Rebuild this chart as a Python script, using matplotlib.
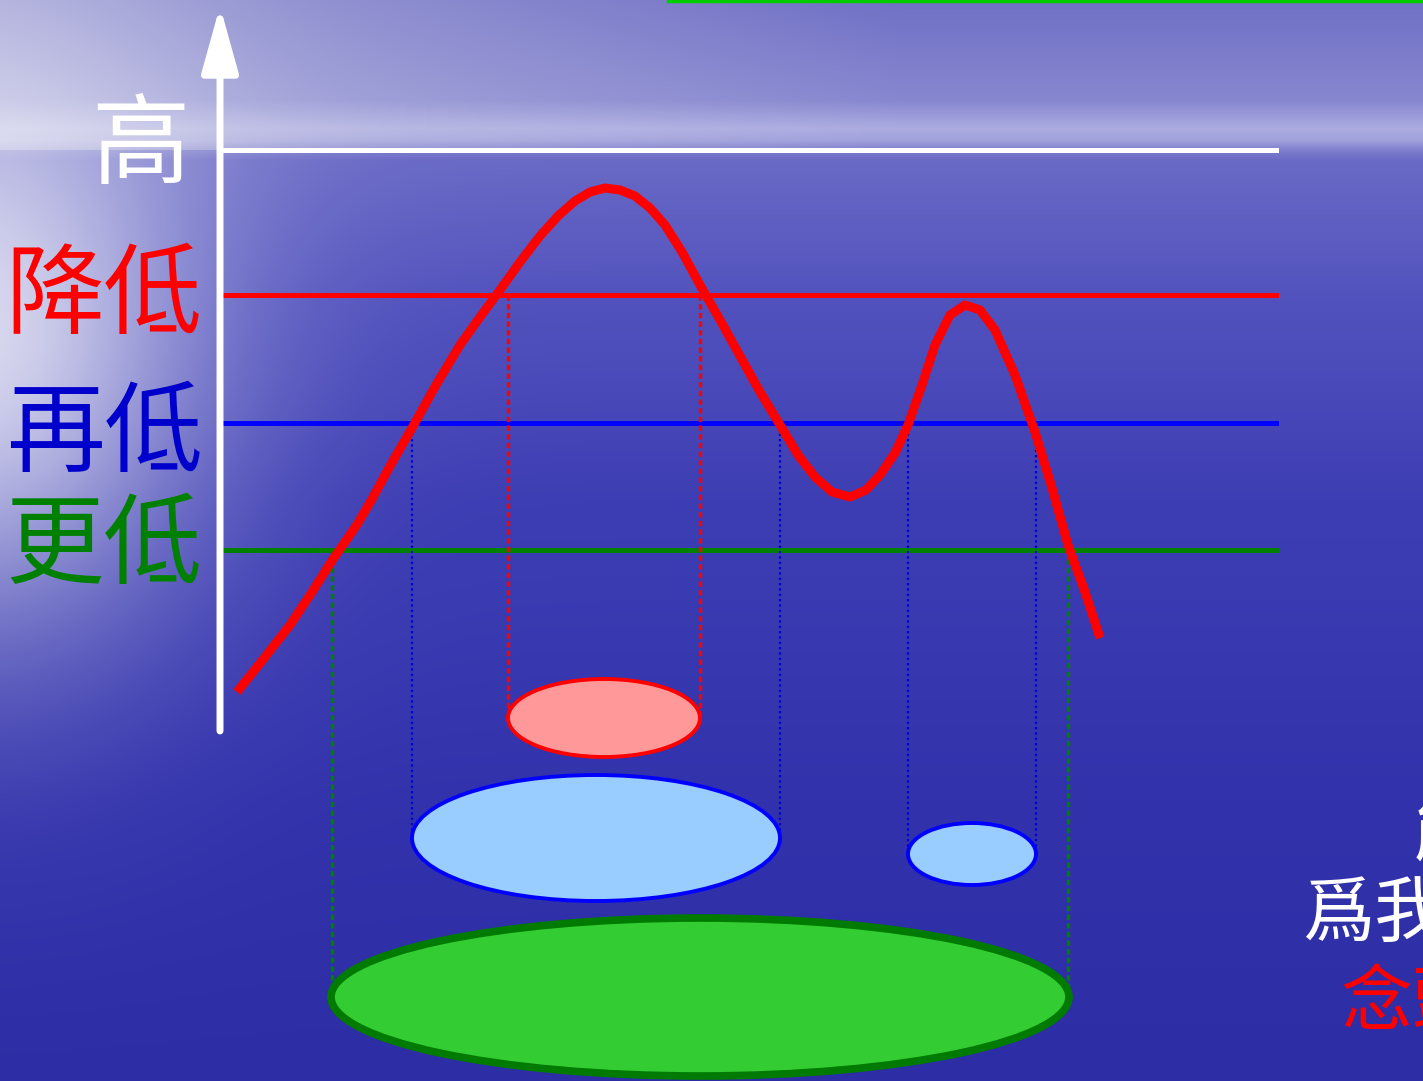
import numpy as np
import matplotlib
matplotlib.use('Agg')
import matplotlib.pyplot as plt
from matplotlib.patches import Ellipse

plt.rcParams['font.family'] = ['Noto Sans CJK TC', 'DejaVu Sans']

W, H = 1423, 1081

# 曲線 (像素座標)
curve_x = [237, 265, 290, 312, 333, 345, 358, 372, 390, 412, 436, 460, 480, 500, 520, 540, 558, 575, 590,
           605, 620, 635, 650, 665, 682, 700, 720, 740, 760, 780, 798, 815, 832, 850, 866, 880, 895,
           908, 922, 935, 950, 965, 980, 995, 1015, 1035, 1052, 1068, 1085, 1100]
curve_y = [692, 657, 625, 592, 559, 542, 523, 499, 466, 428, 385, 345, 317, 290, 262, 236, 216, 201, 192,
           188, 190, 196, 208, 225, 252, 285, 320, 356, 392, 425, 455, 477, 492, 497, 490, 475, 453,
           425, 385, 345, 315, 305, 310, 330, 375, 432, 488, 545, 592, 638]

# 門檻
levels = [150, 295, 423, 550]
level_colors = ['white', '#ff0000', '#0000ff', '#008000']
labels = ['高', '降低', '再低', '更低']
label_colors = ['white', '#ff0000', '#0000cc', '#008000']
label_y = [148, 298, 436, 548]

# 虛線 (x, y_top, y_bottom, color)
drops_x = [508, 700, 412, 780, 908, 1036, 332, 1068]
drops_top = [295, 295, 423, 423, 423, 423, 550, 550]
drops_bot = [718, 718, 838, 838, 854, 854, 997, 997]
drops_col = ['#ff0000', '#ff0000', '#0000cc', '#0000cc', '#0000cc', '#0000cc', '#008000', '#008000']

# 橢圓 (cx, cy, w, h, face, edge, lw)
ell_cx = [604, 596, 972, 700]
ell_cy = [718, 838, 854, 997]
ell_w = [192, 368, 128, 738]
ell_h = [78, 126, 62, 158]
ell_face = ['#ff9999', '#99ccff', '#99ccff', '#33cc33']
ell_edge = ['#ff0000', '#0000ff', '#0000ff', '#007a00']
ell_lw = [2.8, 2.8, 2.8, 5.5]

fig = plt.figure(figsize=(W / 100, H / 100), dpi=100)
ax = fig.add_axes([0, 0, 1, 1])
ax.set_xlim(0, W)
ax.set_ylim(H, 0)
ax.axis('off')

# 背景
yy, xx = np.mgrid[0:H, 0:W]
ys = [0, 100, 128, 140, 150, 160, 300, 500, 800, 1081]
rs = [112, 135, 172, 160, 125, 105, 82, 62, 50, 45]
bs = [198, 208, 226, 220, 205, 198, 190, 180, 172, 165]
r = np.interp(yy, ys, rs).astype(float)
b = np.interp(yy, ys, bs).astype(float)
top = (yy < 150) * np.clip(1 - xx / 900.0, 0, 1) * 0.45
r = r + (220 - r) * top
b = b + (235 - b) * top
glow = np.exp(-(((xx + 30) / 230.0) ** 2 + ((yy - 330) / 300.0) ** 2))
r = r + (240 - r) * glow * 0.85
b = b + (248 - b) * glow * 0.85
bg = np.dstack([r, r, b]) / 255.0
ax.imshow(np.clip(bg, 0, 1), extent=[0, W, H, 0], aspect='auto', zorder=0)

# 上方綠線
ax.plot([668, W], [1, 1], color='#00cc00', lw=2.5, zorder=2)

# 水平門檻線
for y, c in zip(levels, level_colors):
    x0 = 225 if c == 'white' else 220
    ax.plot([x0, 1276], [y, y], color=c, lw=3.6, zorder=2)

for s, c, y in zip(labels, label_colors, label_y):
    ax.text(203 if s != '高' else 190, y, s, color=c, fontsize=71, ha='right', va='center', zorder=3)

# 虛線
for x, y0, y1, c in zip(drops_x, drops_top, drops_bot, drops_col):
    if c == '#0000cc':
        ax.plot([x, x], [y0, y1], color=c, lw=1.6, ls=(0, (1, 1.4)), zorder=2)
    else:
        ax.plot([x, x], [y0, y1], color=c, lw=2.4, ls=(0, (1.6, 1.0)), zorder=2)

# 橢圓
for cx, cy, w, h, fc, ec, lw in zip(ell_cx, ell_cy, ell_w, ell_h, ell_face, ell_edge, ell_lw):
    ax.add_patch(Ellipse((cx, cy), w, h, facecolor=fc, edgecolor=ec, lw=lw, zorder=4))

# 座標軸箭頭
ax.annotate('', xy=(220, 6), xytext=(220, 731),
            arrowprops=dict(arrowstyle='-|>,head_length=0.9,head_width=0.25', color='white', lw=5,
                            mutation_scale=45, shrinkA=0, shrinkB=0), zorder=5)
ax.annotate('', xy=(1430, 727), xytext=(217, 727),
            arrowprops=dict(arrowstyle='-|>,head_length=0.9,head_width=0.25', color='white', lw=5,
                            mutation_scale=45, shrinkA=0, shrinkB=0), zorder=5)

# 曲線
ax.plot(curve_x, curve_y, color='#ff0000', lw=6.5, solid_capstyle='butt', solid_joinstyle='round', zorder=6)

# 右側被裁切的文字 (原圖即被切掉)
ax.text(1413, 835, '能', color='white', fontsize=52, ha='left', va='center', zorder=3)
ax.text(1302, 915, '爲我', color='white', fontsize=52, ha='left', va='center', zorder=3)
ax.text(1340, 1005, '念頭', color='#ff0000', fontsize=52, ha='left', va='center', zorder=3)

fig.savefig('out.png', dpi=100)
